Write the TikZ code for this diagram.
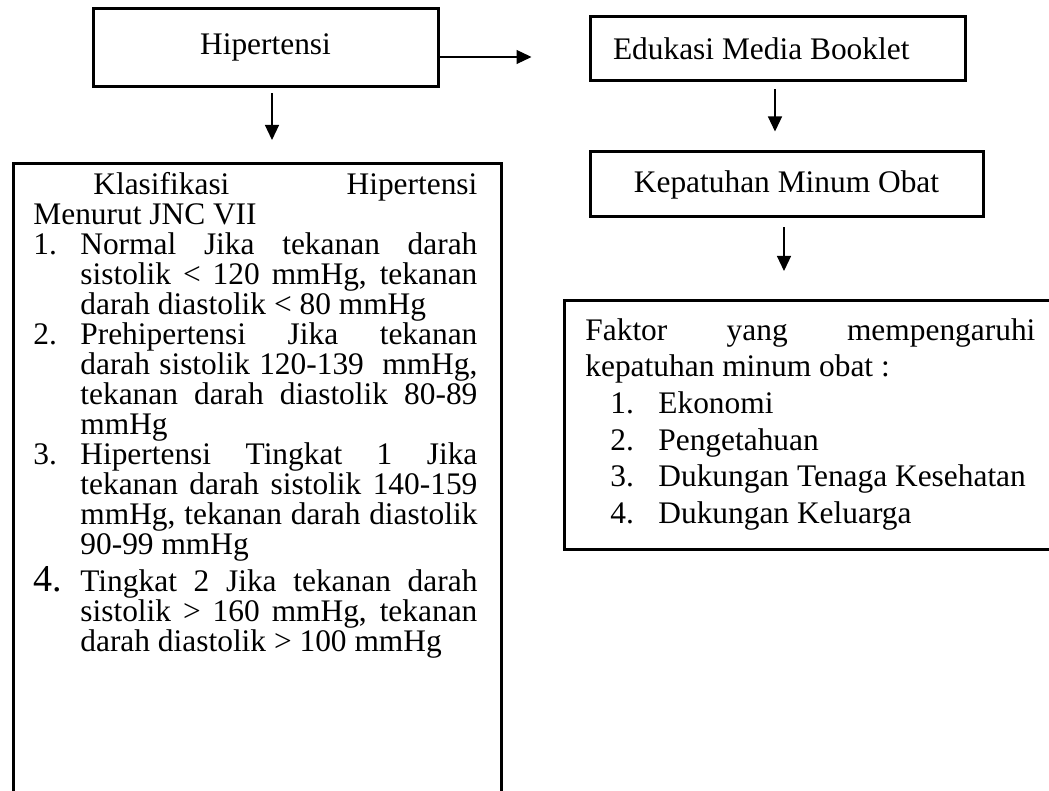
\documentclass[tikz,border=0pt]{standalone}
\usepackage{fontspec}
\setmainfont{Liberation Serif}
\usetikzlibrary{arrows.meta}
\usetikzlibrary{calc}
\usetikzlibrary{positioning}
\tikzset{
    flow box/.style={
        draw,
        line width=1.5pt,
        inner sep=0,
        font=\fontsize{15.7}{15}\selectfont,
    },
    flow arrow/.style={
        line width=0.6pt,
        -{Triangle[length=7.5pt, width=7pt]},
    },
    box text/.style={
        anchor=base west,
        inner sep=0,
        align=left,
        font=\fontsize{15.7}{15}\selectfont,
    },
}

\begin{document}
\begin{tikzpicture}[x=0.5pt, y=-0.5pt]

    \useasboundingbox (0,0) rectangle (1049,791);
    \clip (0,0) rectangle (1049,791);

    % align=left fixes the word space, give it back its stretch
    \newcommand\naturalspace{\spaceskip=0pt\xspaceskip=0pt\relax}
    \newcommand\klasitem[2]{\makebox[23.5pt][l]{#1}\makebox[198.5pt][s]{#2}}
    \newcommand\klasline[1]{\hspace*{23.5pt}\makebox[198.5pt][s]{#1}}
    \newcommand\klaslast[1]{\hspace*{23.5pt}#1}
    \newcommand\faktoritem[2]{\hspace*{12.5pt}\makebox[24pt][l]{#1}#2}

    % kotak-kotak
    \node[flow box, minimum width=172.5pt, minimum height=39pt] (hip) at (265.5,47.5) {Hipertensi};
    \node[flow box, minimum width=187.5pt, minimum height=32pt,
          text width=164.5pt, inner xsep=11.5pt, align=left] (edu) at (777.5,49) {\naturalspace Edukasi Media Booklet};
    \node[flow box, minimum width=196.5pt, minimum height=32.5pt] (kep) at (786.5,184.5) {Kepatuhan Minum Obat};
    \node[flow box, anchor=north west, minimum width=244pt, minimum height=340pt] (klas) at (12,162) {};
    \node[flow box, anchor=north west, minimum width=260pt, minimum height=124.5pt] (faktor) at (563,299) {};

    \node[box text, text width=222pt] (klastext) at ([xshift=10.5pt, yshift=-16.5pt]klas.north west) {%
        \naturalspace
        \hspace*{30pt}\makebox[192pt][s]{Klasifikasi Hipertensi}\\
        Menurut JNC VII\\
        \klasitem{1.}{Normal Jika tekanan darah}\\
        \klasline{sistolik < 120 mmHg, tekanan}\\
        \klaslast{darah diastolik < 80 mmHg}\\
        \klasitem{2.}{Prehipertensi Jika tekanan}\\
        \klasline{darah sistolik 120-139\ \ mmHg,}\\
        \klasline{tekanan darah diastolik 80-89}\\
        \klaslast{mmHg}\\
        \klasitem{3.}{Hipertensi Tingkat 1 Jika}\\
        \klasline{tekanan darah sistolik 140-159}\\
        \klasline{mmHg, tekanan darah diastolik}\\
        \klaslast{90-99 mmHg}\\[1.5pt]
        \klasitem{{\fontsize{19}{15}\selectfont 4.}}{Tingkat 2 Jika tekanan darah}\\
        \klasline{sistolik > 160 mmHg, tekanan}\\
        \klaslast{darah diastolik > 100 mmHg}};

    \node[box text, text width=225pt, font=\fontsize{15.7}{18.35}\selectfont] (faktortext)
        at ([xshift=11pt, yshift=-20.5pt]faktor.north west) {%
        \naturalspace
        \makebox[225pt][s]{Faktor yang mempengaruhi}\\
        kepatuhan minum obat :\\
        \faktoritem{1.}{Ekonomi}\\
        \faktoritem{2.}{Pengetahuan}\\
        \faktoritem{3.}{Dukungan Tenaga Kesehatan}\\
        \faktoritem{4.}{Dukungan Keluarga}};

    % panah
    \draw[flow arrow, shorten >=28.5pt] ([yshift=-4.75pt]hip.east) -- ([yshift=-4.75pt]hip.east -| edu.west);
    \draw[flow arrow, shorten <=2.75pt, shorten >=11pt] ([xshift=3.25pt]hip.south) -- ([xshift=3.25pt]hip.south |- klas.north);
    \draw[flow arrow, shorten <=3.5pt, shorten >=9.5pt] ([xshift=-1.25pt]edu.south) -- ([xshift=-1.25pt]edu.south |- kep.north);
    \draw[flow arrow, shorten <=4.5pt, shorten >=14pt] ([xshift=-1.25pt]kep.south) -- ([xshift=-1.25pt]kep.south |- faktor.north);

\end{tikzpicture}
\end{document}
